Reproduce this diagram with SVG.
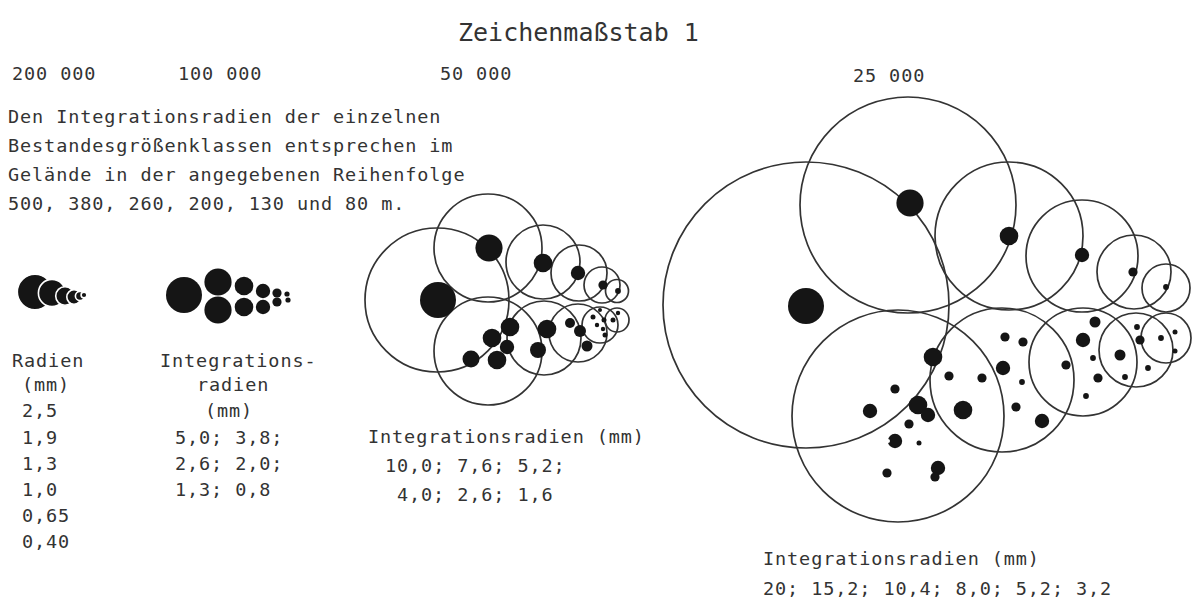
<svg xmlns="http://www.w3.org/2000/svg" width="1195" height="599" viewBox="0 0 1195 599">
<style>
  .t { font-family: "DejaVu Sans Mono", "Liberation Mono", monospace; font-size: 18.5px; letter-spacing: 0.9px; fill: #333; }
  .title { font-family: "DejaVu Sans Mono", "Liberation Mono", monospace; font-size: 25px; fill: #333; }
  .c { fill: none; stroke: #333; stroke-width: 1.7; }
  .d { fill: #151515; }
  .dw { fill: #151515; stroke: #fff; stroke-width: 1.6; }
  .w { fill: #fff; }
</style>
<rect width="1195" height="599" fill="#fff"/>

<g id="title">
  <text class="title" x="458" y="41">Zeichenmaßstab 1</text>
</g>

<g id="scale-labels">
  <text class="t" x="12" y="80">200 000</text>
  <text class="t" x="178" y="80">100 000</text>
  <text class="t" x="440" y="80">50 000</text>
  <text class="t" x="853" y="82">25 000</text>
</g>

<g id="intro-text">
  <text class="t" x="8" y="123">Den Integrationsradien der einzelnen</text>
  <text class="t" x="8" y="152">Bestandesgrößenklassen entsprechen im</text>
  <text class="t" x="8" y="181">Gelände in der angegebenen Reihenfolge</text>
  <text class="t" x="8" y="210">500, 380, 260, 200, 130 und 80 m.</text>
</g>

<g id="panel-200000">
  <circle class="dw" cx="35" cy="292" r="17.7"/>
  <circle class="dw" cx="52" cy="293" r="13.6"/>
  <circle class="dw" cx="65" cy="296" r="9.3"/>
  <circle class="dw" cx="74" cy="297" r="7.2"/>
  <circle class="dw" cx="80" cy="296" r="4.6"/>
  <circle class="dw" cx="84" cy="295" r="2.9"/>
  <text class="t" x="12" y="367">Radien</text>
  <text class="t" x="22" y="391">(mm)</text>
  <text class="t" x="22" y="417">2,5</text>
  <text class="t" x="22" y="444">1,9</text>
  <text class="t" x="22" y="470">1,3</text>
  <text class="t" x="22" y="496">1,0</text>
  <text class="t" x="22" y="522">0,65</text>
  <text class="t" x="22" y="548">0,40</text>
</g>

<g id="panel-100000">
  <circle class="d" cx="184" cy="295" r="18"/>
  <circle class="d" cx="218" cy="282" r="13.6"/>
  <circle class="d" cx="218" cy="310" r="13.6"/>
  <circle class="d" cx="244" cy="286" r="9.3"/>
  <circle class="d" cx="244" cy="307" r="9.3"/>
  <circle class="d" cx="263" cy="291" r="7.2"/>
  <circle class="d" cx="263" cy="307" r="7.2"/>
  <circle class="d" cx="277" cy="293" r="4.6"/>
  <circle class="d" cx="277" cy="302" r="4.6"/>
  <circle class="d" cx="287" cy="294" r="2.6"/>
  <circle class="d" cx="288" cy="300" r="2.6"/>
  <text class="t" x="160" y="367">Integrations-</text>
  <text class="t" x="197" y="391">radien</text>
  <text class="t" x="205" y="417">(mm)</text>
  <text class="t" x="175" y="444">5,0; 3,8;</text>
  <text class="t" x="175" y="470">2,6; 2,0;</text>
  <text class="t" x="175" y="496">1,3; 0,8</text>
</g>

<g id="panel-50000">
  <circle class="c" cx="437" cy="300" r="72"/>
  <circle class="c" cx="488" cy="248" r="54"/>
  <circle class="c" cx="543" cy="262" r="37"/>
  <circle class="c" cx="579" cy="273" r="28"/>
  <circle class="c" cx="602" cy="285" r="18"/>
  <circle class="c" cx="617" cy="291" r="11.5"/>
  <circle class="c" cx="488" cy="351" r="54"/>
  <circle class="c" cx="544" cy="338" r="37"/>
  <circle class="c" cx="578" cy="333" r="29"/>
  <circle class="c" cx="600" cy="325" r="18"/>
  <circle class="c" cx="617" cy="320" r="12"/>
  <circle class="d" cx="438" cy="300" r="18"/>
  <circle class="d" cx="489" cy="248" r="13.6"/>
  <circle class="d" cx="543" cy="263" r="9.3"/>
  <circle class="d" cx="578" cy="273" r="7.2"/>
  <circle class="d" cx="603" cy="285" r="4.6"/>
  <circle class="d" cx="618" cy="291" r="2.9"/>
  <circle class="d" cx="510" cy="327" r="9.3"/>
  <circle class="d" cx="492" cy="338" r="9.3"/>
  <circle class="d" cx="507" cy="347" r="7.2"/>
  <circle class="d" cx="471" cy="359" r="8.5"/>
  <circle class="d" cx="497" cy="360" r="9.3"/>
  <circle class="d" cx="547" cy="329" r="9.3"/>
  <circle class="d" cx="538" cy="350" r="8"/>
  <circle class="d" cx="570" cy="323" r="5"/>
  <circle class="d" cx="580" cy="331" r="6"/>
  <circle class="d" cx="587" cy="346" r="5.5"/>
  <circle class="d" cx="593" cy="317" r="2.5"/>
  <circle class="d" cx="597" cy="325" r="2.2"/>
  <circle class="d" cx="604" cy="320" r="2.5"/>
  <circle class="d" cx="613" cy="320" r="2.5"/>
  <circle class="d" cx="618" cy="313" r="2.2"/>
  <circle class="d" cx="603" cy="329" r="2.2"/>
  <circle class="d" cx="605" cy="335" r="2.5"/>
  <circle class="d" cx="600" cy="310" r="2"/>
  <text class="t" x="368" y="443">Integrationsradien (mm)</text>
  <text class="t" x="385" y="472">10,0; 7,6; 5,2;</text>
  <text class="t" x="397" y="501">4,0; 2,6; 1,6</text>
</g>

<g id="panel-25000">
  <circle class="c" cx="806" cy="305" r="143"/>
  <circle class="c" cx="908" cy="205" r="108"/>
  <circle class="c" cx="1009" cy="236" r="74"/>
  <circle class="c" cx="1082" cy="256" r="56"/>
  <circle class="c" cx="1134" cy="272" r="37"/>
  <circle class="c" cx="1166" cy="288" r="24"/>
  <circle class="c" cx="898" cy="416" r="106"/>
  <circle class="c" cx="1002" cy="380" r="72"/>
  <circle class="c" cx="1083" cy="362" r="54"/>
  <circle class="c" cx="1136" cy="350" r="37"/>
  <circle class="c" cx="1166" cy="338" r="25"/>
  <circle class="d" cx="806" cy="306" r="18"/>
  <circle class="d" cx="910" cy="203" r="13.6"/>
  <circle class="d" cx="1009" cy="236" r="9.3"/>
  <circle class="d" cx="1082" cy="255" r="7.2"/>
  <circle class="d" cx="1133" cy="272" r="4.6"/>
  <circle class="d" cx="1166" cy="287" r="2.9"/>
  <circle class="d" cx="933" cy="357" r="9.3"/>
  <circle class="d" cx="949" cy="376" r="4.6"/>
  <circle class="d" cx="982" cy="378" r="4.6"/>
  <circle class="d" cx="1005" cy="337" r="4.6"/>
  <circle class="d" cx="1023" cy="342" r="4.6"/>
  <circle class="d" cx="1003" cy="368" r="7.2"/>
  <circle class="d" cx="1022" cy="382" r="2.9"/>
  <circle class="d" cx="963" cy="410" r="9.3"/>
  <circle class="d" cx="1016" cy="407" r="4.6"/>
  <circle class="d" cx="1042" cy="421" r="7.2"/>
  <circle class="d" cx="1083" cy="340" r="7.2"/>
  <circle class="d" cx="1095" cy="322" r="5.5"/>
  <circle class="d" cx="1066" cy="365" r="4.6"/>
  <circle class="d" cx="1093" cy="358" r="2.9"/>
  <circle class="d" cx="1098" cy="378" r="4.6"/>
  <circle class="d" cx="1086" cy="396" r="2.9"/>
  <circle class="d" cx="1120" cy="355" r="5.5"/>
  <circle class="d" cx="1140" cy="340" r="4.6"/>
  <circle class="d" cx="1137" cy="327" r="2.9"/>
  <circle class="d" cx="1148" cy="368" r="2.9"/>
  <circle class="d" cx="1125" cy="377" r="2.9"/>
  <circle class="d" cx="1161" cy="338" r="2.9"/>
  <circle class="d" cx="1175" cy="332" r="2.5"/>
  <circle class="d" cx="1175" cy="351" r="2.5"/>
  <circle class="d" cx="895" cy="389" r="4.6"/>
  <circle class="d" cx="870" cy="411" r="7.2"/>
  <circle class="d" cx="918" cy="405" r="9.3"/>
  <circle class="d" cx="928" cy="415" r="7.2"/>
  <circle class="d" cx="909" cy="424" r="4.6"/>
  <circle class="d" cx="895" cy="441" r="7.2"/>
  <circle class="w" cx="888" cy="441" r="2"/>
  <circle class="d" cx="919" cy="443" r="2.5"/>
  <circle class="d" cx="887" cy="473" r="4.6"/>
  <circle class="d" cx="938" cy="468" r="7.2"/>
  <circle class="d" cx="935" cy="477" r="4.6"/>
  <text class="t" x="763" y="565">Integrationsradien (mm)</text>
  <text class="t" x="763" y="595">20; 15,2; 10,4; 8,0; 5,2; 3,2</text>
</g>
</svg>
